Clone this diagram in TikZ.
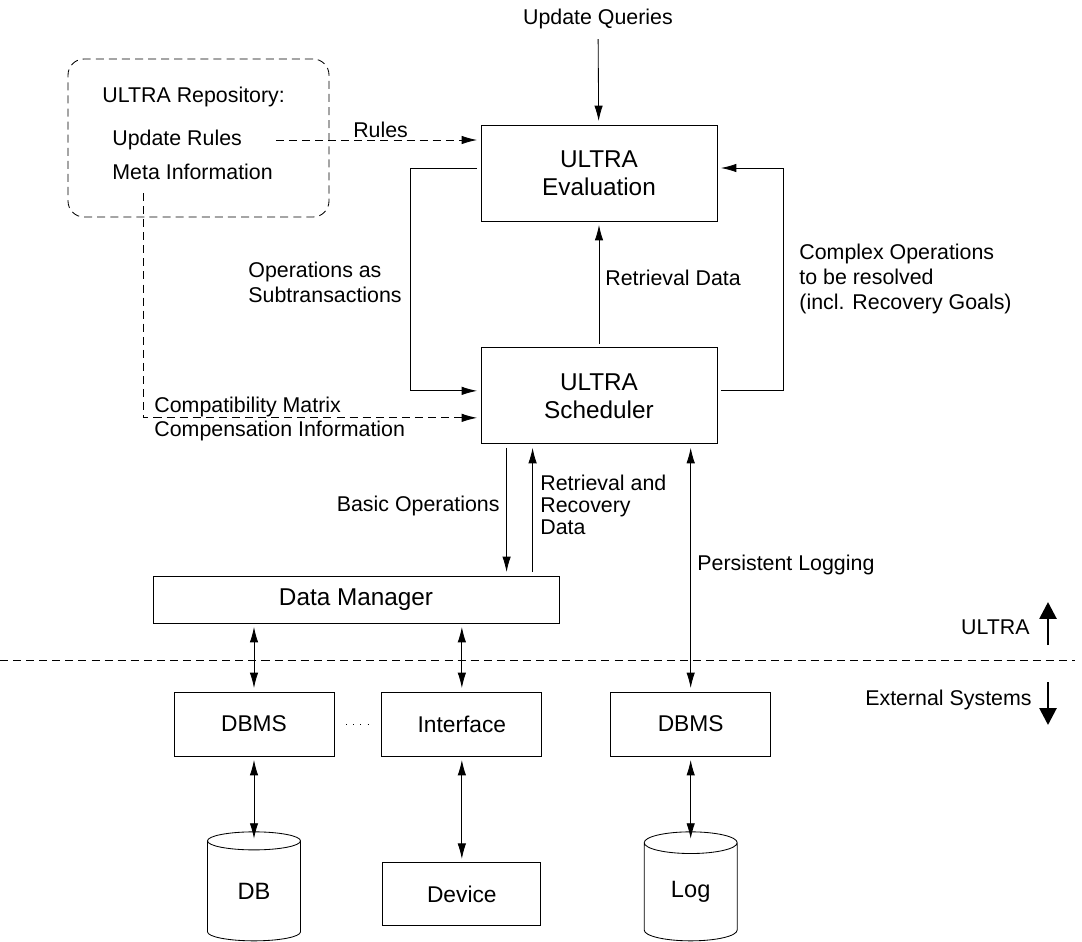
\documentclass[tikz,border=0pt]{standalone}
\usepackage{fontspec}
\setmainfont{Liberation Sans}
\usetikzlibrary{positioning,shapes.geometric,arrows.meta}

\begin{document}
\begin{tikzpicture}[
  node distance=1cm and 1cm,
  line width=0.6pt,
  >={Latex[length=11pt,width=6pt]},
  mybox/.style={draw,rectangle,align=center,inner sep=0pt,minimum width=4cm,minimum height=1.6cm,font=\fontsize{16.2pt}{20pt}\selectfont},
  bigbox/.style={mybox,minimum width=5.9cm,minimum height=2.4cm,font=\fontsize{17.3pt}{20pt}\selectfont},
  mycyl/.style={draw,cylinder,shape border rotate=90,aspect=0.55,minimum width=2.325cm,minimum height=2.725cm,inner sep=0pt,font=\fontsize{16.8pt}{20pt}\selectfont},
  mylabel/.style={align=left,inner sep=0pt,font=\fontsize{15.2pt}{18pt}\selectfont},
  mydash/.style={dash pattern=on 5.7pt off 3.6pt},
  conn/.style={shorten >=2.5pt,shorten <=2.5pt},
  bigarrow/.style={line width=2pt,-{Triangle[length=12pt,width=12pt]}}
]
\useasboundingbox (0,0) rectangle (27.05,-23.525);

% ULTRA part
\node[bigbox] (eval) at (14.975,-4.325) {ULTRA\\Evaluation};
\node[bigbox,below=3.15cm of eval] (sched) {ULTRA\\Scheduler};
\node[mybox,minimum width=10.15cm,minimum height=1.175cm,font=\fontsize{17.3pt}{20pt}\selectfont] (dm) at (8.9,-14.9875) {Data Manager};

% repository
\node[draw,mydash,rounded corners=0.4cm,minimum width=6.525cm,minimum height=3.95cm] (repo) at (4.9625,-3.45) {};
\node[mylabel,anchor=west] (repotitle) at (2.55,-2.425) {ULTRA Repository:};
\node[mylabel,anchor=west] (upd) at (2.8,-3.5) {Update Rules};
\node[mylabel,anchor=west] (meta) at (2.8,-4.3) {Meta Information};

% external systems
\node[mybox] (dbms1) at (6.35,-18.1) {DBMS};
\node[mybox,right=1.175cm of dbms1] (iface) {Interface};
\node[mybox,right=1.7cm of iface] (dbms2) {DBMS};
\node[mycyl,below=1.875cm of dbms1] (db) {DB};
\node[mybox,minimum width=3.95cm,minimum height=1.575cm,below=2.65cm of iface] (dev) {Device};
\node[mycyl,below=1.875cm of dbms2] (log) {Log};

% labels
\node[mylabel] (uq) at (14.95,-0.475) {Update Queries};
\node[mylabel,anchor=west] (opsub) at (6.2,-7.06) {Operations as\\Subtransactions};
\node[mylabel,anchor=west] (complex) at (19.975,-6.975) {Complex Operations\\to be resolved\\(incl. Recovery Goals)};
\node[mylabel,anchor=west] (compmat) at (3.85,-10.175) {Compatibility Matrix};
\node[mylabel,anchor=west] (compinf) at (3.85,-10.775) {Compensation Information};
\node[mylabel,anchor=east] (basic) at (12.5,-12.65) {Basic Operations};
\node[mylabel,anchor=west,font=\fontsize{15.2pt}{15.8pt}\selectfont] (retrrec) at (13.5,-12.625) {Retrieval and\\Recovery\\Data};
\node[mylabel,anchor=west] (persist) at (17.425,-14.125) {Persistent Logging};
\node[mylabel,anchor=east] (ultra) at (25.75,-15.675) {ULTRA};
\node[mylabel,anchor=east] (extsys) at (25.8,-17.5) {External Systems};

\coordinate (cmstart) at (3.575,-4.825);
\coordinate (sepL) at (0,-16.5);
\coordinate (sepR) at (26.875,-16.5);
\coordinate (upA) at (26.2,-16.125);
\coordinate (upB) at (26.2,-15.05);
\coordinate (downA) at (26.2,-17.05);
\coordinate (downB) at (26.2,-18.125);

% connectors
\draw[->,conn,shorten <=7pt] (uq) -- (eval);
\draw[->,mydash,conn] ([xshift=0.75cm]upd.east) -- node[mylabel,above=1.5pt,pos=0.52] (rules) {Rules} (upd.east -| eval.west);
\draw[->,conn] ([yshift=0.125cm]eval.west) -- ++(-1.75cm,0) |- ([yshift=0.125cm]sched.west);
\draw[->,conn] ([yshift=0.125cm]sched.east) -- ++(1.65cm,0) |- ([yshift=0.125cm]eval.east);
\draw[->,conn] (sched) -- node[mylabel,right=0.15cm,pos=0.55] (retr) {Retrieval Data} (eval);
\draw[->,mydash,conn,shorten <=0pt] (cmstart) |- ([yshift=-0.55cm]sched.west);
\draw[->,conn] ([xshift=0.65cm]sched.south west) -- ([xshift=0.65cm]sched.south west |- dm.north);
\draw[->,conn] ([xshift=1.3cm]sched.south west |- dm.north) -- ([xshift=1.3cm]sched.south west);
\draw[<->,conn] (dbms2.north |- sched.south) -- (dbms2.north);
\draw[<->,conn] (dbms1.north |- dm.south) -- (dbms1.north);
\draw[<->,conn] (iface.north |- dm.south) -- (iface.north);
\draw[<->,conn] (dbms1.south) -- ([yshift=-0.27cm]db.north);
\draw[<->,conn] (iface.south) -- (dev.north);
\draw[<->,conn] (dbms2.south) -- ([yshift=-0.27cm]log.north);
\draw[dash pattern=on 0.7pt off 4.3pt,shorten <=0.3cm,shorten >=0.3cm] (dbms1) -- (iface);
\draw[mydash] (sepL) -- (sepR);
\draw[bigarrow] (upA) -- (upB);
\draw[bigarrow] (downA) -- (downB);
\end{tikzpicture}
\end{document}
